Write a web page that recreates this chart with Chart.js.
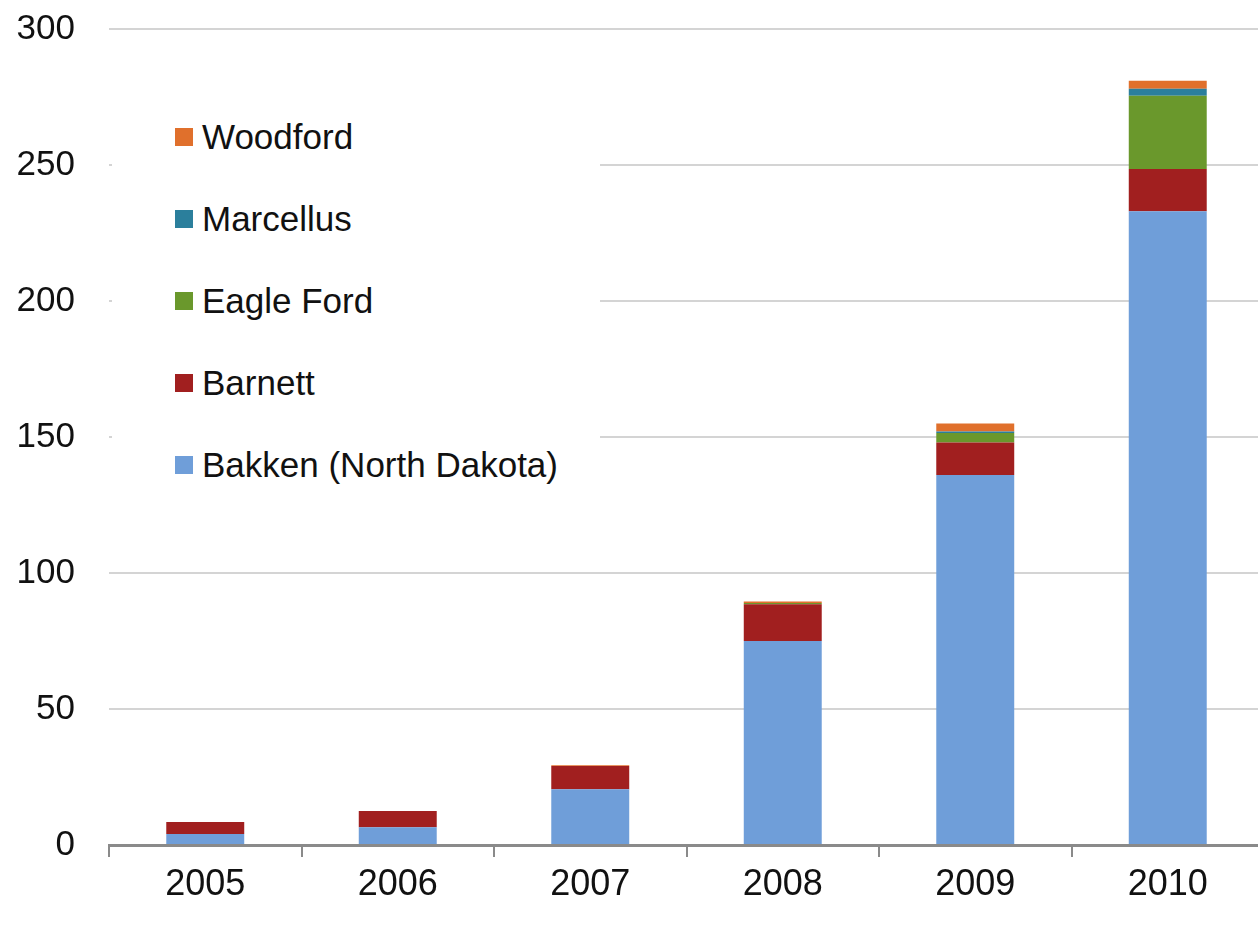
<!DOCTYPE html>
<html>
<head>
<meta charset="utf-8">
<script src="https://cdn.jsdelivr.net/npm/chart.js@4.4.1/dist/chart.umd.min.js"></script>
<style>
  html, body { margin: 0; padding: 0; background: #fff; overflow: hidden; }
  #wrap { position: relative; width: 1258px; height: 925px; overflow: hidden; }
  #chart { position: absolute; left: 0; top: 0; }
  #legend {
    position: absolute; left: 112px; top: 96px; width: 488px; height: 408px;
    background: #fff; font-family: "Liberation Sans", Arial, sans-serif;
  }
  .item { position: absolute; left: 63px; height: 40px; display: flex; align-items: center; }
  .box { width: 18px; height: 18px; margin-right: 9px; }
  .lbl { font-size: 35px; color: #111; white-space: nowrap; }
</style>
</head>
<body>
<div id="wrap">
  <canvas id="chart" width="1266" height="925"></canvas>
  <div id="legend"></div>
</div>
<script>
// categories
const years = ['2005', '2006', '2007', '2008', '2009', '2010'];

// series, stacked bottom to top
const bakken    = [4, 6.5, 20.5, 75, 136, 233];
const barnett   = [4.5, 6, 8.5, 13.5, 12, 15.5];
const eagleFord = [0, 0, 0, 0.5, 3.5, 27];
const marcellus = [0, 0, 0, 0, 0.5, 2.5];
const woodford  = [0, 0, 0.3, 0.5, 3, 3];

// y ticks
const yMin = 0;
const yMax = 300;
const yStep = 50;

const seriesNames = ['Bakken (North Dakota)', 'Barnett', 'Eagle Ford', 'Marcellus', 'Woodford'];
const seriesData = [bakken, barnett, eagleFord, marcellus, woodford];
const seriesColors = ['#6f9ed9', '#a11f1f', '#6a982c', '#2b7f9c', '#e0702c'];

const font = "'Liberation Sans', Arial, sans-serif";

const datasets = seriesNames.map((name, i) => ({
  label: name,
  data: seriesData[i],
  backgroundColor: seriesColors[i],
  borderWidth: 0,
  barPercentage: 0.405,
  categoryPercentage: 1.0,
}));

const chart = new Chart(document.getElementById('chart'), {
  type: 'bar',
  data: { labels: years, datasets: datasets },
  options: {
    responsive: false,
    animation: false,
    layout: { padding: { top: 29, right: 2, left: 0, bottom: 0 } },
    plugins: {
      legend: { display: false },
      tooltip: { enabled: false },
    },
    scales: {
      x: {
        stacked: true,
        afterFit: (scale) => {
          scale.height = 80;
          scale.paddingLeft = 0;
          scale.paddingRight = 0;
        },
        grid: {
          offset: true,
          drawOnChartArea: false,
          drawTicks: true,
          tickLength: 12,
          color: '#8a8a8a',
          lineWidth: 2,
        },
        border: { display: true, color: '#8a8a8a', width: 3 },
        ticks: {
          color: '#111',
          padding: 6,
          font: { family: font, size: 36 },
        },
      },
      y: {
        stacked: true,
        min: yMin,
        max: yMax,
        afterFit: (scale) => {
          scale.width = 109;
          scale.paddingTop = 0;
          scale.paddingBottom = 0;
        },
        grid: {
          drawTicks: false,
          color: '#d4d4d4',
          lineWidth: 2,
        },
        border: { display: false },
        ticks: {
          stepSize: yStep,
          color: '#111',
          padding: 34,
          font: { family: font, size: 35 },
        },
      },
    },
  },
});

// legend, top entry first
const legend = document.getElementById('legend');
chart.data.datasets.slice().reverse().forEach((ds, i) => {
  const row = document.createElement('div');
  row.className = 'item';
  row.style.top = (21 + i * 82) + 'px';
  const box = document.createElement('span');
  box.className = 'box';
  box.style.background = ds.backgroundColor;
  const lbl = document.createElement('span');
  lbl.className = 'lbl';
  lbl.textContent = ds.label;
  row.appendChild(box);
  row.appendChild(lbl);
  legend.appendChild(row);
});
</script>
</body>
</html>
